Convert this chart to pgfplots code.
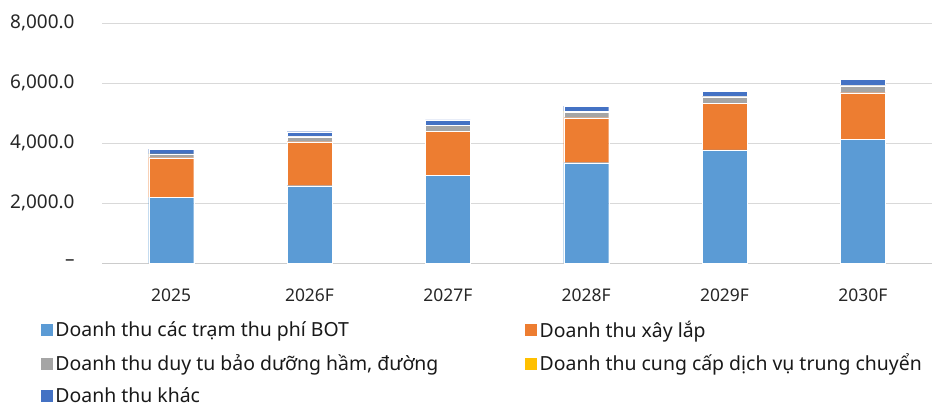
\documentclass[border=0pt]{standalone}
\usepackage{pgfplots}
\pgfplotsset{compat=1.18}
\usepackage{fontspec}
\setmainfont{Noto Sans}
\definecolor{cBOT}{HTML}{5B9BD5}
\definecolor{cXL}{HTML}{ED7D31}
\definecolor{cDT}{HTML}{A5A5A5}
\definecolor{cTC}{HTML}{FFC000}
\definecolor{cK}{HTML}{4472C4}
\begin{document}
\begin{tikzpicture}[x=1bp,y=1bp]
\path[use as bounding box] (0,0) rectangle (946,408);
\begin{axis}[
  at={(102bp,145bp)}, anchor=south west,
  scale only axis, width=830bp, height=240bp,
  ybar stacked, bar width=45bp,
  xmin=-0.5, xmax=5.5, ymin=0, ymax=8000,
  xtick={0,1,2,3,4,5},
  xticklabels={2025,2026F,2027F,2028F,2029F,2030F},
  ytick={0,2000,4000,6000,8000},
  yticklabels={--,{2,000.0},{4,000.0},{6,000.0},{8,000.0}},
  ymajorgrids, grid style={color=black!15, line width=1pt},
  axis x line*=bottom, axis y line*=left,
  x axis line style={color=black!20, line width=1pt},
  y axis line style={draw=none},
  major tick length=0pt,
  tick label style={text=black!85},
  xticklabel style={yshift=-22bp, font=\fontsize{17.5}{19}\selectfont},
  yticklabel style={xshift=-24bp, font=\fontsize{19}{21}\selectfont},
  legend columns=2,
  legend style={at={(-65bp,-54bp)}, anchor=north west, draw=none, fill=none,
    font=\fontsize{19.5}{22}\selectfont, row sep=11bp, text=black!90,
    /tikz/every even column/.append style={column sep=84bp}},
  legend cell align=left,
  legend image code/.code={\fill[#1] (0bp,-6.5bp) rectangle (13bp,6.5bp);},
  every axis plot/.append style={draw=white, line width=0.3pt},
]
\addplot[fill=cBOT] coordinates {(0,2190) (1,2577) (2,2933) (3,3343) (4,3767) (5,4133)};
\addplot[fill=cXL] coordinates {(0,1320) (1,1466) (2,1467) (3,1500) (4,1556) (5,1544)};
\addplot[fill=cDT] coordinates {(0,110) (1,165) (2,180) (3,180) (4,220) (5,233)};
\addplot[fill=cTC] coordinates {(0,20) (1,15) (2,20) (3,30) (4,20) (5,20)};
\addplot[fill=cK] coordinates {(0,160) (1,154) (2,167) (3,180) (4,170) (5,190)};
\legend{Doanh thu các trạm thu phí BOT, Doanh thu xây lắp, {Doanh thu duy tu bảo dưỡng hầm, đường}, Doanh thu cung cấp dịch vụ trung chuyển, Doanh thu khác}
\end{axis}
\end{tikzpicture}
\end{document}
